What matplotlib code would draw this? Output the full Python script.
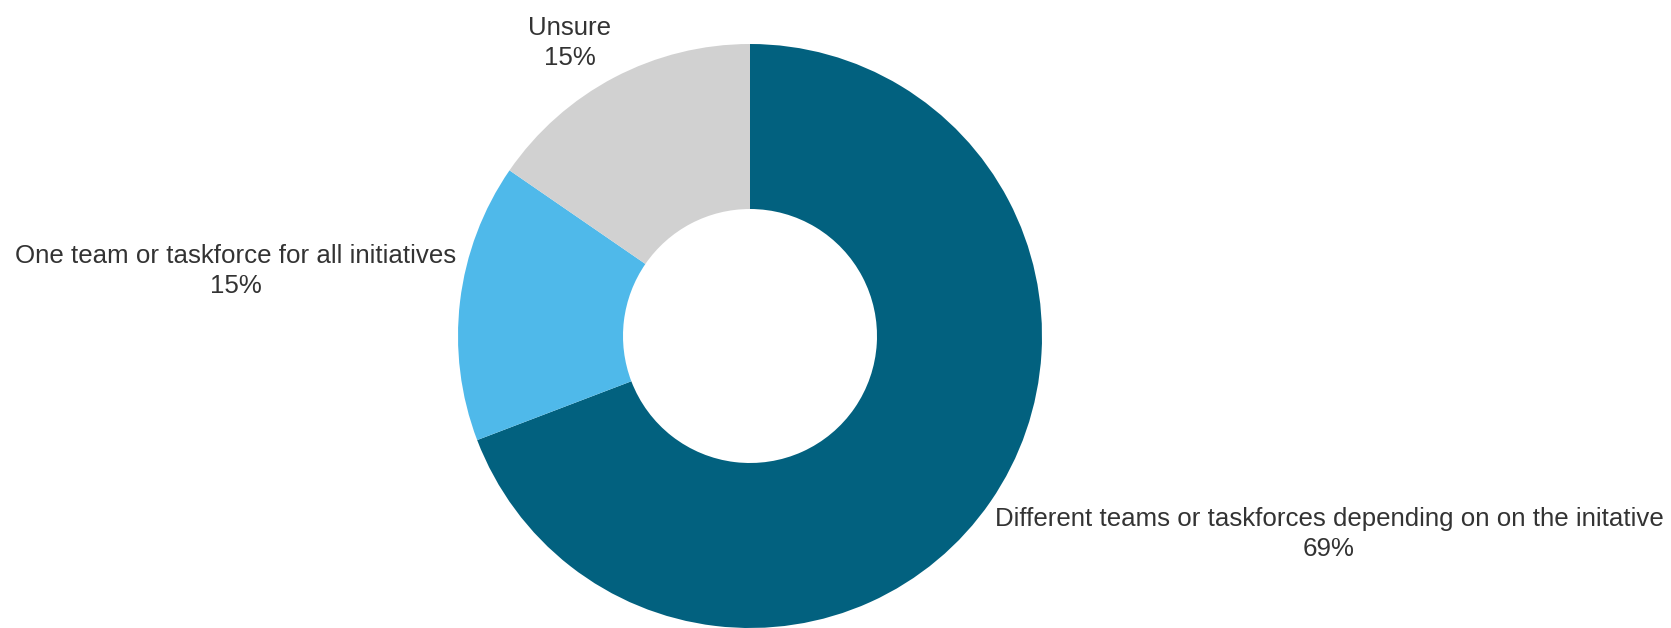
import matplotlib
matplotlib.use("Agg")
import matplotlib.pyplot as plt

# data
categories = [
    "Different teams or taskforces depending on on the initative",
    "One team or taskforce for all initiatives",
    "Unsure",
]
shares = [69.2, 15.4, 15.4]
pct_labels = ["69%", "15%", "15%"]

COLORS = ["#02617F", "#4FB9EA", "#D1D1D1"]
TEXT_COLOR = "#333333"

W, H = 1671, 628
plt.rcParams["font.family"] = ["Liberation Sans", "DejaVu Sans"]

fig = plt.figure(figsize=(W / 100, H / 100), dpi=100)
fig.patch.set_facecolor("white")

# donut: centre (750, 336) px from top-left, outer radius 292 px
cx, cy, r = 750, 336, 292
ax = fig.add_axes([(cx - r) / W, (H - cy - r) / H, 2 * r / W, 2 * r / H])
ax.pie(
    shares,
    colors=COLORS,
    startangle=90,
    counterclock=False,
    radius=1.0,
    wedgeprops={"width": 1 - 127 / 292, "linewidth": 0},
)
ax.set_xlim(-1, 1)
ax.set_ylim(-1, 1)
ax.axis("off")

# label positions in pixels: (centre x, baseline of first line)
label_pos = [(1329, 526), (236, 263), (570, 35)]
for name, pct, (x, y) in zip(categories, pct_labels, label_pos):
    for i, line in enumerate([name, pct]):
        fig.text(x / W, 1 - (y + 30 * i) / H, line, ha="center", va="baseline",
                 fontsize=18.6, color=TEXT_COLOR)

fig.savefig("out.png", dpi=100, facecolor="white")
